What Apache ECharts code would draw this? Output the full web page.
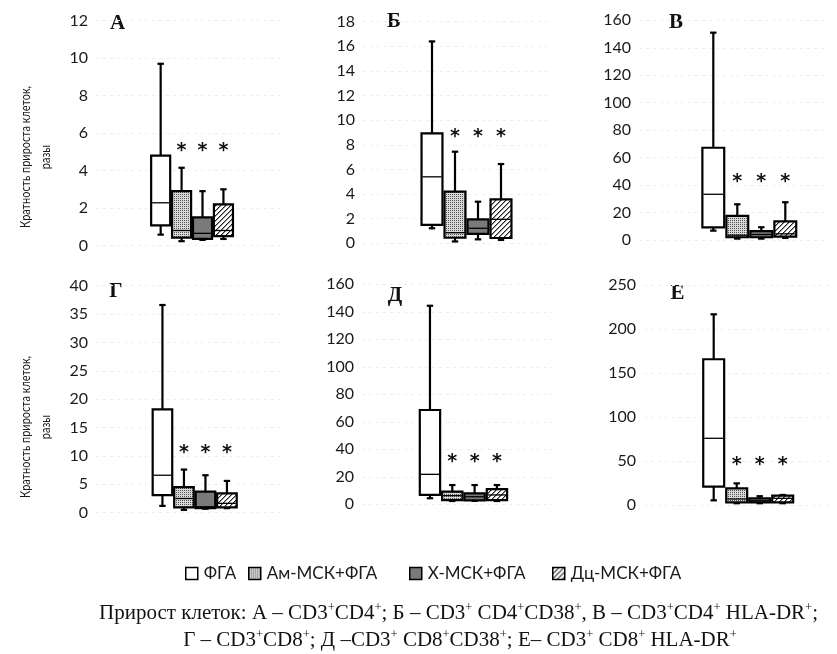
<!DOCTYPE html>
<html><head><meta charset="utf-8">
<script src="https://cdn.jsdelivr.net/npm/echarts@6/dist/echarts.min.js"></script>
<style>html,body{margin:0;padding:0;background:#fff}#c{width:837px;height:654px}</style>
</head><body><div id="c"></div>
<script>
// ---------- data ----------
const panelLetters = ['А', 'Б', 'В', 'Г', 'Д', 'Е'];
const groupNames = ['ФГА', 'Ам-МСК+ФГА', 'Х-МСК+ФГА', 'Дц-МСК+ФГА'];
const yMax = [12, 18, 160, 40, 160, 250];
const yStep = [2, 2, 20, 5, 20, 50];
// [min, Q1, median, Q3, max] for each panel А..Е
const fgaBoxes = [
  [0.58, 1.07, 2.28, 4.8, 9.7],
  [1.22, 1.5, 5.4, 8.93, 16.4],
  [6.8, 9.2, 33.3, 67.2, 151],
  [1.2, 3.1, 6.6, 18.2, 36.6],
  [4.4, 6.8, 21.8, 68.6, 144.4],
  [5.3, 20.8, 75.8, 165.6, 216.7]
];
const amBoxes = [
  [0.23, 0.42, 0.8, 2.9, 4.15],
  [0.15, 0.45, 0.86, 4.19, 7.44],
  [1, 2, 3.5, 17.5, 26],
  [0.5, 0.95, 2.5, 4.5, 7.6],
  [2.4, 3.1, 6.3, 9.2, 14],
  [2, 3, 6.8, 19, 24.6]
];
const hBoxes = [
  [0.3, 0.35, 0.65, 1.5, 2.9],
  [0.32, 0.76, 1.22, 1.95, 3.38],
  [1, 2, 4, 6.5, 9.3],
  [0.7, 0.8, 1.05, 3.7, 6.6],
  [2.5, 2.9, 5.5, 8, 14],
  [2, 3, 4.8, 7.6, 10]
];
const dcBoxes = [
  [0.35, 0.5, 0.8, 2.2, 3.0],
  [0.27, 0.43, 1.95, 3.57, 6.44],
  [1.5, 2.5, 4.5, 13.5, 27.5],
  [0.8, 0.95, 1.65, 3.4, 5.6],
  [2.4, 3.1, 6.8, 11.1, 14],
  [2, 3, 7.6, 10.6, 11.4]
];
const starY = [5.3, 9.0, 46, 11.3, 34, 51];
const yAxisTitle = 'Кратность прироста клеток,\nразы';
const caption1 = 'Прирост клеток: А – CD3^+CD4^+; Б – CD3^+ CD4^+CD38^+, В – CD3^+CD4^+ HLA-DR^+;';
const caption2 = 'Г – CD3^+CD8^+; Д –CD3^+ CD8^+CD38^+; Е– CD3^+ CD8^+ HLA-DR^+';

// ---------- layout (pixels) ----------
const layout = [
  {bgL: 96,  bgW: 184, fgL: 150.2, fgW: 83.7, top: 20.7,  bot: 245.5, lx: 117.5, ly: 24},
  {bgL: 363, bgW: 190, fgL: 420.5, fgW: 92,   top: 21.7,  bot: 243.3, lx: 394,   ly: 22},
  {bgL: 639, bgW: 190, fgL: 701.3, fgW: 96,   top: 20.3,  bot: 240,   lx: 676,   ly: 23},
  {bgL: 96,  bgW: 184, fgL: 151.7, fgW: 86,   top: 285.7, bot: 512.7, lx: 116,   ly: 292},
  {bgL: 362, bgW: 190, fgL: 418.8, fgW: 89.3, top: 284.3, bot: 504.3, lx: 395,   ly: 295.5},
  {bgL: 644, bgW: 185, fgL: 702.2, fgW: 92,   top: 285,   bot: 505,   lx: 677.5, ly: 294}
];
const legendLeft = [185, 248, 409, 552];

const SANS = 'Lato';
const SERIF = 'Liberation Serif';

function makeCanvas(w, h, draw) {
  const c = document.createElement('canvas');
  c.width = w; c.height = h;
  draw(c.getContext('2d'));
  return c;
}
const dotCanvas = makeCanvas(2, 2, ctx => {
  ctx.fillStyle = '#d8d8d8'; ctx.fillRect(0, 0, 2, 2);
  ctx.fillStyle = '#555'; ctx.fillRect(0, 0, 1, 1);
});
const hatchCanvas = makeCanvas(5, 5, ctx => {
  ctx.fillStyle = '#fff'; ctx.fillRect(0, 0, 5, 5);
  for (let x = 0; x < 5; x++) for (let y = 0; y < 5; y++) {
    const k = (x + y) % 5;
    if (k === 0) { ctx.fillStyle = '#222'; ctx.fillRect(x, y, 1, 1); }
    else if (k === 1) { ctx.fillStyle = '#999'; ctx.fillRect(x, y, 1, 1); }
  }
});
const fills = [
  '#ffffff',
  {type: 'pattern', image: dotCanvas, repeat: 'repeat'},
  '#7a7a7a',
  {type: 'pattern', image: hatchCanvas, repeat: 'repeat'}
];
const boxSets = [fgaBoxes, amBoxes, hBoxes, dcBoxes];

function renderBox(params, api) {
  const g = api.value(0);
  const pLo = api.coord([g, api.value(1)]);
  const pQ1 = api.coord([g, api.value(2)]);
  const pMd = api.coord([g, api.value(3)]);
  const pQ3 = api.coord([g, api.value(4)]);
  const pHi = api.coord([g, api.value(5)]);
  const band = api.size([1, 0])[0];
  const bw = band * 0.91;
  const cx = pLo[0];
  const cap = 3.2;
  const ls = {stroke: '#000', lineWidth: 2.2};
  return {type: 'group', children: [
    {type: 'line', shape: {x1: cx, y1: pHi[1], x2: cx, y2: pQ3[1]}, style: ls},
    {type: 'line', shape: {x1: cx - cap, y1: pHi[1], x2: cx + cap, y2: pHi[1]}, style: ls},
    {type: 'line', shape: {x1: cx, y1: pLo[1], x2: cx, y2: pQ1[1]}, style: ls},
    {type: 'line', shape: {x1: cx - cap, y1: pLo[1], x2: cx + cap, y2: pLo[1]}, style: ls},
    {type: 'rect', shape: {x: cx - bw / 2, y: pQ3[1], width: bw, height: pQ1[1] - pQ3[1]},
      style: {fill: fills[g], stroke: '#000', lineWidth: 2.2}},
    {type: 'line', shape: {x1: cx - bw / 2 + 1, y1: pMd[1], x2: cx + bw / 2 - 1, y2: pMd[1]},
      style: {stroke: '#000', lineWidth: 1.3}}
  ]};
}
const STAR_SIZE = 19;
function renderStar(params, api) {
  const p = api.coord([api.value(0), api.value(1)]);
  return {type: 'text', x: p[0], y: p[1] + STAR_SIZE * 0.25, style: {
    text: '*', fill: '#111', font: 'bold ' + STAR_SIZE + 'px "DejaVu Sans"',
    textAlign: 'center', textVerticalAlign: 'middle'}};
}

const grids = [], xAxes = [], yAxes = [], series = [], graphics = [];
layout.forEach((L, p) => {
  const h = L.bot - L.top;
  grids.push({left: L.bgL, width: L.bgW, top: L.top, height: h, outerBoundsMode: 'none'});
  grids.push({left: L.fgL, width: L.fgW, top: L.top, height: h, outerBoundsMode: 'none'});
  xAxes.push({gridIndex: 2 * p, type: 'category', data: [''], show: false});
  xAxes.push({gridIndex: 2 * p + 1, type: 'category', data: groupNames, show: false});
  yAxes.push({
    gridIndex: 2 * p, type: 'value', min: 0, max: yMax[p], interval: yStep[p],
    axisLine: {show: false}, axisTick: {show: false},
    axisLabel: {margin: 8, fontFamily: SANS, fontSize: 16, color: '#1a1a1a'},
    splitLine: {lineStyle: {color: '#eeeeee', type: [3, 4], width: 1}}
  });
  yAxes.push({gridIndex: 2 * p + 1, type: 'value', min: 0, max: yMax[p], interval: yStep[p], show: false});
  groupNames.forEach((name, g) => {
    series.push({
      type: 'custom', name, xAxisIndex: 2 * p + 1, yAxisIndex: 2 * p + 1,
      renderItem: renderBox, silent: true, animation: false,
      itemStyle: {color: fills[g], borderColor: '#000', borderWidth: 1.5},
      encode: {x: 0, y: [1, 2, 3, 4, 5]},
      data: [[g].concat(boxSets[g][p])]
    });
  });
  series.push({
    type: 'custom', name: 'stars', xAxisIndex: 2 * p + 1, yAxisIndex: 2 * p + 1,
    renderItem: renderStar, silent: true, animation: false,
    encode: {x: 0, y: 1},
    data: [[1, starY[p]], [2, starY[p]], [3, starY[p]]]
  });
  graphics.push({type: 'text', x: L.lx, y: L.ly, silent: true, style: {
    text: panelLetters[p], font: 'bold 21px "' + SERIF + '"', fill: '#111',
    textAlign: 'center', textVerticalAlign: 'middle'}});
});

[157, 427].forEach(cy => {
  graphics.push({type: 'text', x: 36, y: cy, rotation: Math.PI / 2, scaleX: 0.79, silent: true, style: {
    text: yAxisTitle, font: '13.8px "' + SANS + '"', fill: '#1a1a1a', lineHeight: 20,
    textAlign: 'center', textVerticalAlign: 'middle'}});
});

function richCaption(s) {
  return '{n|' + s.split('^+').join('}{s|+}{n|') + '}';
}
const capRich = {
  n: {fontFamily: SERIF, fontSize: 21, fill: '#111', lineHeight: 24},
  s: {fontFamily: SERIF, fontSize: 12.5, fill: '#111', lineHeight: 24, verticalAlign: 'top'}
};
graphics.push({type: 'text', x: 458.5, y: 613, silent: true, style: {
  text: richCaption(caption1), rich: capRich, textAlign: 'center', textVerticalAlign: 'middle'}});
graphics.push({type: 'text', x: 460, y: 640, silent: true, style: {
  text: richCaption(caption2), rich: capRich, textAlign: 'center', textVerticalAlign: 'middle'}});

const legends = groupNames.map((name, g) => ({
  data: [name], left: legendLeft[g], top: 565, icon: 'rect', itemWidth: 12, itemHeight: 12,
  selectedMode: false, padding: 0,
  itemStyle: {borderColor: '#000', borderWidth: 1.5},
  textStyle: {fontFamily: SANS, fontSize: 17, color: '#1a1a1a', padding: [0, 0, 0, 1]}
}));

const chart = echarts.init(document.getElementById('c'), null, {renderer: 'canvas'});
chart.setOption({
  backgroundColor: '#fff',
  animation: false,
  grid: grids, xAxis: xAxes, yAxis: yAxes, series,
  legend: legends,
  graphic: graphics
});
</script></body></html>
